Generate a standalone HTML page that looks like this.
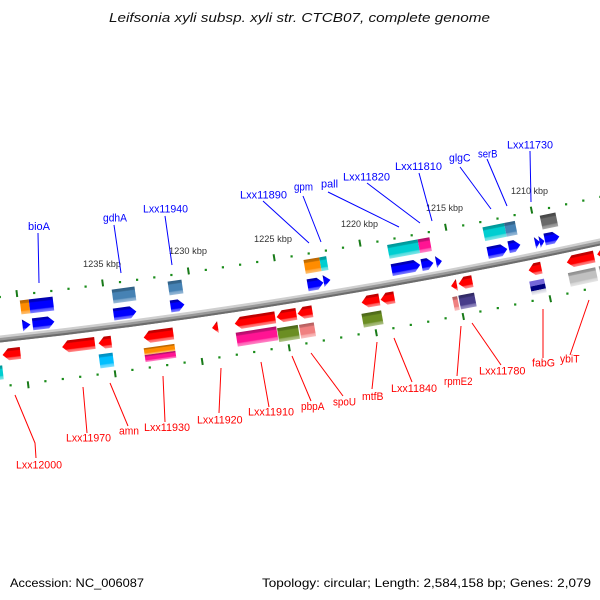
<!DOCTYPE html>
<html><head><meta charset="utf-8"><style>
html,body{margin:0;padding:0;background:#fff;}
svg{display:block;}
text{font-family:"Liberation Sans","DejaVu Sans",sans-serif;}
</style></head><body>
<svg width="600" height="600" viewBox="0 0 600 600" xmlns="http://www.w3.org/2000/svg">
<defs>
<linearGradient id="gR" x1="0" y1="0" x2="0" y2="1"><stop offset="0" stop-color="#b80000"/><stop offset=".2" stop-color="#c80000"/><stop offset=".26" stop-color="#ff0000"/><stop offset=".72" stop-color="#ff0000"/><stop offset=".8" stop-color="#ff5a5a"/><stop offset="1" stop-color="#ff8a8a"/></linearGradient>
<linearGradient id="gB" x1="0" y1="0" x2="0" y2="1"><stop offset="0" stop-color="#0000a8"/><stop offset=".2" stop-color="#0000c0"/><stop offset=".26" stop-color="#0000ff"/><stop offset=".72" stop-color="#0000ff"/><stop offset=".8" stop-color="#5050ff"/><stop offset="1" stop-color="#8080ff"/></linearGradient>
<linearGradient id="gSB" x1="0" y1="0" x2="0" y2="1"><stop offset="0" stop-color="#2f5f85"/><stop offset=".2" stop-color="#36688f"/><stop offset=".26" stop-color="#4682b4"/><stop offset=".72" stop-color="#4682b4"/><stop offset=".8" stop-color="#78a4ca"/><stop offset="1" stop-color="#9abbd8"/></linearGradient>
<linearGradient id="gO" x1="0" y1="0" x2="0" y2="1"><stop offset="0" stop-color="#b86400"/><stop offset=".2" stop-color="#c87000"/><stop offset=".26" stop-color="#ff8c00"/><stop offset=".72" stop-color="#ff8c00"/><stop offset=".8" stop-color="#ffa840"/><stop offset="1" stop-color="#ffc070"/></linearGradient>
<linearGradient id="gC" x1="0" y1="0" x2="0" y2="1"><stop offset="0" stop-color="#009496"/><stop offset=".2" stop-color="#00a4a6"/><stop offset=".26" stop-color="#00ced1"/><stop offset=".72" stop-color="#00ced1"/><stop offset=".8" stop-color="#50dcde"/><stop offset="1" stop-color="#80e6e8"/></linearGradient>
<linearGradient id="gP" x1="0" y1="0" x2="0" y2="1"><stop offset="0" stop-color="#b00d66"/><stop offset=".2" stop-color="#c81078"/><stop offset=".26" stop-color="#ff1493"/><stop offset=".72" stop-color="#ff1493"/><stop offset=".8" stop-color="#ff5cb4"/><stop offset="1" stop-color="#ff88c8"/></linearGradient>
<linearGradient id="gG" x1="0" y1="0" x2="0" y2="1"><stop offset="0" stop-color="#444"/><stop offset=".2" stop-color="#505050"/><stop offset=".26" stop-color="#696969"/><stop offset=".72" stop-color="#696969"/><stop offset=".8" stop-color="#909090"/><stop offset="1" stop-color="#aaa"/></linearGradient>
<linearGradient id="gDS" x1="0" y1="0" x2="0" y2="1"><stop offset="0" stop-color="#008cbc"/><stop offset=".2" stop-color="#009ad0"/><stop offset=".26" stop-color="#00bfff"/><stop offset=".72" stop-color="#00bfff"/><stop offset=".8" stop-color="#50d2ff"/><stop offset="1" stop-color="#80e0ff"/></linearGradient>
<linearGradient id="gOl" x1="0" y1="0" x2="0" y2="1"><stop offset="0" stop-color="#4a6418"/><stop offset=".2" stop-color="#56741c"/><stop offset=".26" stop-color="#6b8e23"/><stop offset=".72" stop-color="#6b8e23"/><stop offset=".8" stop-color="#94ad60"/><stop offset="1" stop-color="#b0c488"/></linearGradient>
<linearGradient id="gLC" x1="0" y1="0" x2="0" y2="1"><stop offset="0" stop-color="#b05c5c"/><stop offset=".2" stop-color="#c86a6a"/><stop offset=".26" stop-color="#f08080"/><stop offset=".72" stop-color="#f08080"/><stop offset=".8" stop-color="#f6a8a8"/><stop offset="1" stop-color="#fac0c0"/></linearGradient>
<linearGradient id="gDSB" x1="0" y1="0" x2="0" y2="1"><stop offset="0" stop-color="#2e2760"/><stop offset=".2" stop-color="#383070"/><stop offset=".26" stop-color="#483d8b"/><stop offset=".72" stop-color="#483d8b"/><stop offset=".8" stop-color="#7a70b0"/><stop offset="1" stop-color="#9a92c4"/></linearGradient>
<linearGradient id="gS" x1="0" y1="0" x2="0" y2="1"><stop offset="0" stop-color="#8c8c8c"/><stop offset=".2" stop-color="#9c9c9c"/><stop offset=".26" stop-color="#c0c0c0"/><stop offset=".72" stop-color="#c0c0c0"/><stop offset=".8" stop-color="#d6d6d6"/><stop offset="1" stop-color="#e6e6e6"/></linearGradient>
<linearGradient id="gW" x1="0" y1="0" x2="0" y2="1"><stop offset="0" stop-color="#c8c8d8"/><stop offset="1" stop-color="#f4f4f8"/></linearGradient>
</defs>

<!-- title -->
<text x="109" y="22" font-size="12.5" font-style="italic" fill="#111" textLength="381" lengthAdjust="spacingAndGlyphs">Leifsonia xyli subsp. xyli str. CTCB07, complete genome</text>

<!-- upper tick row dots -->
<g fill="#1a8c1a">
<rect x="-1.3" y="295.9" width="2.2" height="2.2"/>
<rect x="33.1" y="291.9" width="2.2" height="2.2"/>
<rect x="50.2" y="289.9" width="2.2" height="2.2"/>
<rect x="67.4" y="287.7" width="2.2" height="2.2"/>
<rect x="84.5" y="285.5" width="2.2" height="2.2"/>
<rect x="118.9" y="281" width="2.2" height="2.2"/>
<rect x="136" y="278.7" width="2.2" height="2.2"/>
<rect x="153.2" y="276.3" width="2.2" height="2.2"/>
<rect x="170.3" y="273.9" width="2.2" height="2.2"/>
<rect x="204.7" y="268.8" width="2.2" height="2.2"/>
<rect x="221.8" y="266.2" width="2.2" height="2.2"/>
<rect x="239" y="263.6" width="2.2" height="2.2"/>
<rect x="256.1" y="260.9" width="2.2" height="2.2"/>
<rect x="290.5" y="255.3" width="2.2" height="2.2"/>
<rect x="307.6" y="252.4" width="2.2" height="2.2"/>
<rect x="324.8" y="249.5" width="2.2" height="2.2"/>
<rect x="341.9" y="246.6" width="2.2" height="2.2"/>
<rect x="376.3" y="240.5" width="2.2" height="2.2"/>
<rect x="393.4" y="237.4" width="2.2" height="2.2"/>
<rect x="410.6" y="234.2" width="2.2" height="2.2"/>
<rect x="427.7" y="231" width="2.2" height="2.2"/>
<rect x="462.1" y="224.3" width="2.2" height="2.2"/>
<rect x="479.2" y="221" width="2.2" height="2.2"/>
<rect x="496.4" y="217.5" width="2.2" height="2.2"/>
<rect x="513.5" y="214" width="2.2" height="2.2"/>
<rect x="547.9" y="206.9" width="2.2" height="2.2"/>
<rect x="565" y="203.2" width="2.2" height="2.2"/>
<rect x="582.2" y="199.5" width="2.2" height="2.2"/>
<rect x="599.3" y="195.8" width="2.2" height="2.2"/>
</g>
<!-- lower tick row dots -->
<g fill="#1a8c1a">
<rect x="9.5" y="384.2" width="2.2" height="2.2"/>
<rect x="44.3" y="380.1" width="2.2" height="2.2"/>
<rect x="61.7" y="377.9" width="2.2" height="2.2"/>
<rect x="79.1" y="375.7" width="2.2" height="2.2"/>
<rect x="96.5" y="373.5" width="2.2" height="2.2"/>
<rect x="131.3" y="368.8" width="2.2" height="2.2"/>
<rect x="148.7" y="366.4" width="2.2" height="2.2"/>
<rect x="166.1" y="364" width="2.2" height="2.2"/>
<rect x="183.5" y="361.5" width="2.2" height="2.2"/>
<rect x="218.3" y="356.3" width="2.2" height="2.2"/>
<rect x="235.7" y="353.6" width="2.2" height="2.2"/>
<rect x="253.1" y="350.9" width="2.2" height="2.2"/>
<rect x="270.5" y="348.1" width="2.2" height="2.2"/>
<rect x="305.3" y="342.3" width="2.2" height="2.2"/>
<rect x="322.7" y="339.4" width="2.2" height="2.2"/>
<rect x="340.1" y="336.4" width="2.2" height="2.2"/>
<rect x="357.5" y="333.3" width="2.2" height="2.2"/>
<rect x="392.3" y="327.1" width="2.2" height="2.2"/>
<rect x="409.7" y="323.8" width="2.2" height="2.2"/>
<rect x="427.1" y="320.6" width="2.2" height="2.2"/>
<rect x="444.5" y="317.2" width="2.2" height="2.2"/>
<rect x="479.3" y="310.4" width="2.2" height="2.2"/>
<rect x="496.7" y="307" width="2.2" height="2.2"/>
<rect x="514.1" y="303.4" width="2.2" height="2.2"/>
<rect x="531.5" y="299.8" width="2.2" height="2.2"/>
<rect x="566.3" y="292.5" width="2.2" height="2.2"/>
<rect x="583.7" y="288.7" width="2.2" height="2.2"/>
<rect x="601.1" y="284.9" width="2.2" height="2.2"/>
</g>
<!-- ticks -->
<g stroke="#187a18" stroke-width="2" fill="none">
<line x1="16.42" y1="290.08" x2="17.23" y2="297.03"/>
<line x1="102.15" y1="279.45" x2="103.06" y2="286.39"/>
<line x1="187.88" y1="267.51" x2="188.89" y2="274.44"/>
<line x1="273.6" y1="254.27" x2="274.72" y2="261.19"/>
<line x1="359.33" y1="239.72" x2="360.55" y2="246.61"/>
<line x1="445.06" y1="223.86" x2="446.38" y2="230.73"/>
<line x1="530.79" y1="206.69" x2="532.21" y2="213.54"/>
<line x1="27.77" y1="381.31" x2="28.59" y2="388.27"/>
<line x1="114.74" y1="370.32" x2="115.66" y2="377.26"/>
<line x1="201.71" y1="358.02" x2="202.74" y2="364.94"/>
<line x1="288.68" y1="344.33" x2="289.81" y2="351.24"/>
<line x1="375.65" y1="329.33" x2="376.89" y2="336.22"/>
<line x1="462.62" y1="313.04" x2="463.96" y2="319.91"/>
<line x1="549.59" y1="295.34" x2="551.03" y2="302.19"/>
</g>
<!-- tick labels -->
<g font-size="9" fill="#333">
<text x="83" y="267" textLength="38" lengthAdjust="spacingAndGlyphs">1235 kbp</text>
<text x="169" y="254" textLength="38" lengthAdjust="spacingAndGlyphs">1230 kbp</text>
<text x="254" y="242" textLength="38" lengthAdjust="spacingAndGlyphs">1225 kbp</text>
<text x="341" y="227" textLength="37" lengthAdjust="spacingAndGlyphs">1220 kbp</text>
<text x="426" y="211" textLength="37" lengthAdjust="spacingAndGlyphs">1215 kbp</text>
<text x="511" y="194" textLength="37" lengthAdjust="spacingAndGlyphs">1210 kbp</text>
</g>

<!-- backbone -->
<path d="M -10 340.07 Q 300 307.05 610 239.82" fill="none" stroke="#cfcfcf" stroke-width="7"/>
<path d="M -10 340.07 Q 300 307.05 610 239.82" fill="none" stroke="#999" stroke-width="4.5" transform="translate(0,1.25)"/>
<path d="M -10 340.07 Q 300 307.05 610 239.82" fill="none" stroke="#6c6c6c" stroke-width="2" transform="translate(0,2.5)"/>

<!-- upper COG boxes -->
<g transform="translate(37,305.5) rotate(-6.8)"><rect x="-16.5" y="-7" width="9" height="14" fill="url(#gO)"/><rect x="-7.5" y="-7" width="24" height="14" fill="url(#gB)"/></g>
<g transform="translate(124,295) rotate(-7.7)"><rect x="-11.5" y="-7" width="23" height="14" fill="url(#gSB)"/></g>
<g transform="translate(175.5,287.5) rotate(-8.2)"><rect x="-7" y="-7" width="14" height="14" fill="url(#gSB)"/></g>
<g transform="translate(316,265) rotate(-9.6)"><rect x="-11.5" y="-7" width="16" height="14" fill="url(#gO)"/><rect x="4.5" y="-7" width="7" height="14" fill="url(#gC)"/></g>
<g transform="translate(409.5,248) rotate(-10.5)"><rect x="-21.5" y="-7" width="31" height="14" fill="url(#gC)"/><rect x="9.5" y="-7" width="12" height="14" fill="url(#gP)"/></g>
<g transform="translate(500,231) rotate(-11.4)"><rect x="-16.5" y="-7" width="22" height="14" fill="url(#gC)"/><rect x="5.5" y="-7" width="11" height="14" fill="url(#gSB)"/></g>
<g transform="translate(549,221) rotate(-11.9)"><rect x="-8" y="-7" width="16" height="14" fill="url(#gG)"/></g>

<!-- forward genes (blue) -->
<g fill="url(#gB)">
<g transform="translate(26.5,325) rotate(-6.7)"><polygon points="-4,-6 4,0 -4,6"/></g>
<g transform="translate(43.5,323) rotate(-6.9)"><polygon points="-11,-6 5,-6 11,0 5,6 -11,6"/></g>
<g transform="translate(125,313) rotate(-7.7)"><polygon points="-11.5,-6 5.5,-6 11.5,0 5.5,6 -11.5,6"/></g>
<g transform="translate(177.5,305.5) rotate(-8.2)"><polygon points="-7,-6 1,-6 7,0 1,6 -7,6"/></g>
<g transform="translate(315.5,284) rotate(-9.6)"><polygon points="-8,-6 2,-6 8,0 2,6 -8,6"/></g>
<g transform="translate(327,280.5) rotate(-9.7)"><polygon points="-3.5,-6 3.5,0 -3.5,6"/></g>
<g transform="translate(406,267.5) rotate(-10.5)"><polygon points="-14.5,-6 8.5,-6 14.5,0 8.5,6 -14.5,6"/></g>
<g transform="translate(427.5,264) rotate(-10.7)"><polygon points="-6,-6 0,-6 6,0 0,6 -6,6"/></g>
<g transform="translate(439,261.5) rotate(-10.8)"><polygon points="-3,-6 3,0 -3,6"/></g>
<g transform="translate(497.5,251) rotate(-11.4)"><polygon points="-10,-6 4,-6 10,0 4,6 -10,6"/></g>
<g transform="translate(514.5,246) rotate(-11.6)"><polygon points="-6,-6 0,-6 6,0 0,6 -6,6"/></g>
<g transform="translate(537.5,242.5) rotate(-11.8)"><polygon points="-2.5,-6 2.5,0 -2.5,6"/></g>
<g transform="translate(542,241.5) rotate(-11.8)"><polygon points="-2.5,-6 2.5,0 -2.5,6"/></g>
<g transform="translate(552,238) rotate(-11.9)"><polygon points="-7.5,-6 1.5,-6 7.5,0 1.5,6 -7.5,6"/></g>
</g>

<!-- reverse genes (red) -->
<g fill="url(#gR)">
<g transform="translate(11.5,354) rotate(-6.6)"><polygon points="9,-6 -3,-6 -9,0 -3,6 9,6"/></g>
<g transform="translate(78.5,345) rotate(-7.2)"><polygon points="16.5,-6 -10.5,-6 -16.5,0 -10.5,6 16.5,6"/></g>
<g transform="translate(105,342.5) rotate(-7.5)"><polygon points="6.5,-6 -0.5,-6 -6.5,0 -0.5,6 6.5,6"/></g>
<g transform="translate(158.5,335.5) rotate(-8)"><polygon points="15,-6 -9,-6 -15,0 -9,6 15,6"/></g>
<g transform="translate(215,327.5) rotate(-8.6)"><polygon points="3,-6 -3,0 3,6"/></g>
<g transform="translate(255,320.5) rotate(-9)"><polygon points="20.5,-6 -14.5,-6 -20.5,0 -14.5,6 20.5,6"/></g>
<g transform="translate(286.5,315.5) rotate(-9.3)"><polygon points="10,-6 -4,-6 -10,0 -4,6 10,6"/></g>
<g transform="translate(305,312.5) rotate(-9.5)"><polygon points="7.5,-6 -1.5,-6 -7.5,0 -1.5,6 7.5,6"/></g>
<g transform="translate(370.5,301) rotate(-10.1)"><polygon points="9,-6 -3,-6 -9,0 -3,6 9,6"/></g>
<g transform="translate(387.5,298.5) rotate(-10.3)"><polygon points="7,-6 -1,-6 -7,0 -1,6 7,6"/></g>
<g transform="translate(454,285.5) rotate(-11)"><polygon points="3,-6 -3,0 3,6"/></g>
<g transform="translate(465.5,282.5) rotate(-11.1)"><polygon points="7,-6 -1,-6 -7,0 -1,6 7,6"/></g>
<g transform="translate(535,269) rotate(-11.8)"><polygon points="6.5,-6 -0.5,-6 -6.5,0 -0.5,6 6.5,6"/></g>
<g transform="translate(580.5,259.5) rotate(-12.2)"><polygon points="14,-6 -8,-6 -14,0 -8,6 14,6"/></g>
<g transform="translate(604,253) rotate(-12.4)"><polygon points="7,-6 -1,-6 -7,0 -1,6 7,6"/></g>
</g>

<!-- lower COG boxes -->
<g transform="translate(-3,373) rotate(-6.4)"><rect x="-6" y="-7" width="12" height="14" fill="url(#gC)"/></g>
<g transform="translate(106.5,360.5) rotate(-7.5)"><rect x="-7" y="-7" width="14" height="14" fill="url(#gDS)"/></g>
<g transform="translate(160,353) rotate(-8)"><rect x="-15.5" y="-7" width="31" height="7" fill="url(#gO)"/><rect x="-15.5" y="0" width="31" height="7" fill="url(#gP)"/></g>
<g transform="translate(257,336.5) rotate(-9)"><rect x="-20.5" y="-7" width="41" height="14" fill="url(#gP)"/></g>
<g transform="translate(288.5,333.5) rotate(-9.3)"><rect x="-10.5" y="-7" width="21" height="14" fill="url(#gOl)"/></g>
<g transform="translate(307.5,330.5) rotate(-9.5)"><rect x="-7.5" y="-7" width="15" height="14" fill="url(#gLC)"/></g>
<g transform="translate(372.5,319) rotate(-10.1)"><rect x="-10" y="-7" width="20" height="14" fill="url(#gOl)"/></g>
<g transform="translate(456,303.5) rotate(-11)"><rect x="-2.5" y="-7" width="5" height="14" fill="url(#gLC)"/></g>
<g transform="translate(467.5,301) rotate(-11.1)"><rect x="-8" y="-7" width="16" height="14" fill="url(#gDSB)"/></g>
<g transform="translate(538,287) rotate(-11.8)"><rect x="-7.5" y="-7" width="15" height="5" fill="#7466d8"/><rect x="-7.5" y="-2" width="15" height="5" fill="#000080"/><rect x="-7.5" y="3" width="15" height="4" fill="url(#gW)"/></g>
<g transform="translate(583,277) rotate(-12.2)"><rect x="-14" y="-7" width="28" height="14" fill="url(#gS)"/></g>
<g transform="translate(606,272) rotate(-12.4)"><rect x="-6" y="-7" width="12" height="14" fill="url(#gS)"/></g>

<!-- blue leader lines -->
<g stroke="#0000ff" stroke-width="1" fill="none">
<line x1="38" y1="233" x2="39" y2="283"/>
<line x1="114" y1="225" x2="121" y2="273"/>
<line x1="165" y1="216" x2="172" y2="265"/>
<line x1="263" y1="201" x2="309" y2="243"/>
<line x1="303" y1="196" x2="321" y2="242"/>
<line x1="328" y1="192" x2="399" y2="227"/>
<line x1="367" y1="183" x2="420" y2="223"/>
<line x1="419" y1="173" x2="432" y2="221"/>
<line x1="460" y1="167" x2="491" y2="209"/>
<line x1="487" y1="159" x2="507" y2="206"/>
<line x1="530" y1="151" x2="531" y2="202"/>
</g>
<!-- red leader lines -->
<g stroke="#ff0000" stroke-width="1" fill="none">
<polyline points="15,395 35,443 36,458"/>
<line x1="83" y1="387" x2="87" y2="433"/>
<line x1="110" y1="383" x2="128" y2="426"/>
<line x1="163" y1="376" x2="165" y2="422"/>
<line x1="221" y1="368" x2="219" y2="413"/>
<line x1="261" y1="362" x2="269" y2="407"/>
<line x1="292" y1="356" x2="311" y2="401"/>
<line x1="311" y1="353" x2="343" y2="396"/>
<line x1="377" y1="342" x2="372" y2="389"/>
<line x1="394" y1="338" x2="412" y2="382"/>
<line x1="461" y1="326" x2="457" y2="376"/>
<line x1="472" y1="323" x2="501" y2="365"/>
<line x1="543" y1="309" x2="543" y2="358"/>
<line x1="589" y1="300" x2="570" y2="355"/>
</g>

<!-- blue labels -->
<g font-size="11" fill="#0000ff">
<text x="28" y="230" textLength="22" lengthAdjust="spacingAndGlyphs">bioA</text>
<text x="103" y="221.5" textLength="24" lengthAdjust="spacingAndGlyphs">gdhA</text>
<text x="143" y="212.7" textLength="45" lengthAdjust="spacingAndGlyphs">Lxx11940</text>
<text x="240" y="198.3" textLength="47" lengthAdjust="spacingAndGlyphs">Lxx11890</text>
<text x="294" y="190.5" textLength="19" lengthAdjust="spacingAndGlyphs">gpm</text>
<text x="321" y="187.7" textLength="17" lengthAdjust="spacingAndGlyphs">pall</text>
<text x="343" y="180.7" textLength="47" lengthAdjust="spacingAndGlyphs">Lxx11820</text>
<text x="395" y="170" textLength="47" lengthAdjust="spacingAndGlyphs">Lxx11810</text>
<text x="449" y="161.7" textLength="21.5" lengthAdjust="spacingAndGlyphs">glgC</text>
<text x="478" y="157.7" textLength="19.5" lengthAdjust="spacingAndGlyphs">serB</text>
<text x="507" y="148.3" textLength="46" lengthAdjust="spacingAndGlyphs">Lxx11730</text>
</g>
<!-- red labels -->
<g font-size="11" fill="#ff0000">
<text x="16" y="468.7" textLength="46" lengthAdjust="spacingAndGlyphs">Lxx12000</text>
<text x="66" y="441.7" textLength="45" lengthAdjust="spacingAndGlyphs">Lxx11970</text>
<text x="119" y="434.3" textLength="20" lengthAdjust="spacingAndGlyphs">amn</text>
<text x="144" y="431" textLength="46" lengthAdjust="spacingAndGlyphs">Lxx11930</text>
<text x="197" y="423.3" textLength="45.5" lengthAdjust="spacingAndGlyphs">Lxx11920</text>
<text x="248" y="415.3" textLength="46" lengthAdjust="spacingAndGlyphs">Lxx11910</text>
<text x="301" y="410" textLength="23.5" lengthAdjust="spacingAndGlyphs">pbpA</text>
<text x="333" y="405.5" textLength="23" lengthAdjust="spacingAndGlyphs">spoU</text>
<text x="362" y="400" textLength="21.5" lengthAdjust="spacingAndGlyphs">mtfB</text>
<text x="391" y="392" textLength="46" lengthAdjust="spacingAndGlyphs">Lxx11840</text>
<text x="444" y="385" textLength="28.5" lengthAdjust="spacingAndGlyphs">rpmE2</text>
<text x="479" y="374.3" textLength="46.5" lengthAdjust="spacingAndGlyphs">Lxx11780</text>
<text x="532" y="366.7" textLength="23" lengthAdjust="spacingAndGlyphs">fabG</text>
<text x="560" y="362.7" textLength="19.5" lengthAdjust="spacingAndGlyphs">ybiT</text>
</g>

<!-- footer -->
<text x="10" y="587" font-size="12" fill="#000" textLength="134" lengthAdjust="spacingAndGlyphs">Accession: NC_006087</text>
<text x="262" y="587" font-size="12" fill="#000" textLength="329" lengthAdjust="spacingAndGlyphs">Topology: circular; Length: 2,584,158 bp; Genes: 2,079</text>
</svg>
</body></html>
